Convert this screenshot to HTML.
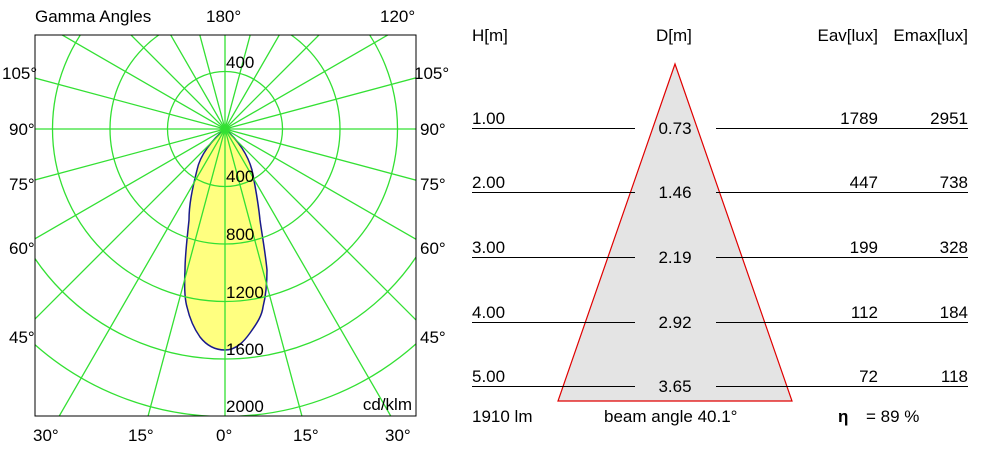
<!DOCTYPE html>
<html><head><style>
html,body{margin:0;background:#fff;width:990px;height:450px;overflow:hidden;}
svg{display:block;font-family:"Liberation Sans",sans-serif;}
</style></head><body>
<svg width="990" height="450" viewBox="0 0 990 450" xmlns="http://www.w3.org/2000/svg">
<defs><clipPath id="c"><rect x="35" y="35" width="381" height="381"/></clipPath></defs>
<g clip-path="url(#c)">
<path d="M225,129 C212,140 200,155 197,170 C192,190 189,205 189,220 C187,240 185,255 185,270 C184,290 185,300 187,307 C190,320 195,330 200,337 C207,346 215,350 225,350 C237,350 245,340 250,333 C258,322 262,315 263,307 C266,295 267,285 267,270 C265,250 262,235 260,220 C258,200 255,185 252,170 C248,155 238,140 225,129 Z" fill="#ffff80" stroke="#1a1a8c" stroke-width="1.5"/>
<g fill="none" stroke="#33e033" stroke-width="1.3">
<circle cx="225" cy="129" r="57.5"/><circle cx="225" cy="129" r="115"/><circle cx="225" cy="129" r="172.5"/><circle cx="225" cy="129" r="230"/><circle cx="225" cy="129" r="287.5"/><circle cx="225" cy="129" r="345"/>
<line x1="-600" y1="129" x2="1050" y2="129"/>
<line x1="225" y1="-600" x2="225" y2="900"/>
<line x1="-575" y1="-85.4" x2="1025" y2="343.4"/>
<line x1="-575" y1="343.4" x2="1025" y2="-85.4"/>
<line x1="-575" y1="-332.9" x2="1025" y2="590.9"/>
<line x1="-575" y1="590.9" x2="1025" y2="-332.9"/>
<line x1="-575" y1="-671" x2="1025" y2="929"/>
<line x1="-575" y1="929" x2="1025" y2="-671"/>
<line x1="-237" y1="-671" x2="687" y2="929"/>
<line x1="-237" y1="929" x2="687" y2="-671"/>
<line x1="10.6" y1="-671" x2="439.4" y2="929"/>
<line x1="10.6" y1="929" x2="439.4" y2="-671"/>
</g>
</g>
<rect x="35" y="35" width="381" height="381" fill="none" stroke="#000" stroke-width="1"/>
<g font-size="17" fill="#000">
<text x="35" y="22">Gamma Angles</text>
<text x="206" y="22">180°</text>
<text x="380" y="22">120°</text>
<text x="2" y="79">105°</text><text x="414" y="79">105°</text>
<text x="9" y="135">90°</text><text x="420" y="135">90°</text>
<text x="9" y="190">75°</text><text x="420" y="190">75°</text>
<text x="9" y="254">60°</text><text x="420" y="254">60°</text>
<text x="9" y="343">45°</text><text x="420" y="343">45°</text>
<text x="33" y="441">30°</text><text x="128" y="441">15°</text><text x="216" y="441">0°</text><text x="293" y="441">15°</text><text x="385" y="441">30°</text>
<text x="226" y="68">400</text>
<text x="226" y="182">400</text>
<text x="226" y="240">800</text>
<text x="226" y="298">1200</text>
<text x="226" y="355">1600</text>
<text x="226" y="412">2000</text>
<text x="412" y="410" text-anchor="end">cd/klm</text>
</g>
<polygon points="675,64 558,401 792,401" fill="#e4e4e4" stroke="#e00000" stroke-width="1.2"/>
<g stroke="#000" stroke-width="1">
<line x1="472" y1="128.5" x2="635" y2="128.5"/><line x1="716" y1="128.5" x2="968" y2="128.5"/>
<line x1="472" y1="192.5" x2="635" y2="192.5"/><line x1="716" y1="192.5" x2="968" y2="192.5"/>
<line x1="472" y1="257.5" x2="635" y2="257.5"/><line x1="716" y1="257.5" x2="968" y2="257.5"/>
<line x1="472" y1="322.5" x2="635" y2="322.5"/><line x1="716" y1="322.5" x2="968" y2="322.5"/>
<line x1="472" y1="386.5" x2="635" y2="386.5"/><line x1="716" y1="386.5" x2="968" y2="386.5"/>
</g>
<g font-size="17" fill="#000">
<text x="472" y="41">H[m]</text>
<text x="656" y="41">D[m]</text>
<text x="878" y="41" text-anchor="end">Eav[lux]</text>
<text x="968" y="41" text-anchor="end">Emax[lux]</text>
<text x="472" y="124">1.00</text><text x="675" y="134" text-anchor="middle">0.73</text><text x="878" y="124" text-anchor="end">1789</text><text x="968" y="124" text-anchor="end">2951</text>
<text x="472" y="188">2.00</text><text x="675" y="198" text-anchor="middle">1.46</text><text x="878" y="188" text-anchor="end">447</text><text x="968" y="188" text-anchor="end">738</text>
<text x="472" y="253">3.00</text><text x="675" y="263" text-anchor="middle">2.19</text><text x="878" y="253" text-anchor="end">199</text><text x="968" y="253" text-anchor="end">328</text>
<text x="472" y="318">4.00</text><text x="675" y="328" text-anchor="middle">2.92</text><text x="878" y="318" text-anchor="end">112</text><text x="968" y="318" text-anchor="end">184</text>
<text x="472" y="382">5.00</text><text x="675" y="392" text-anchor="middle">3.65</text><text x="878" y="382" text-anchor="end">72</text><text x="968" y="382" text-anchor="end">118</text>
<text x="472" y="422">1910 lm</text>
<text x="604" y="422">beam angle 40.1°</text>
<text x="838" y="422" font-weight="bold">η</text>
<text x="866" y="422">= 89 %</text>
</g>
</svg>
</body></html>
